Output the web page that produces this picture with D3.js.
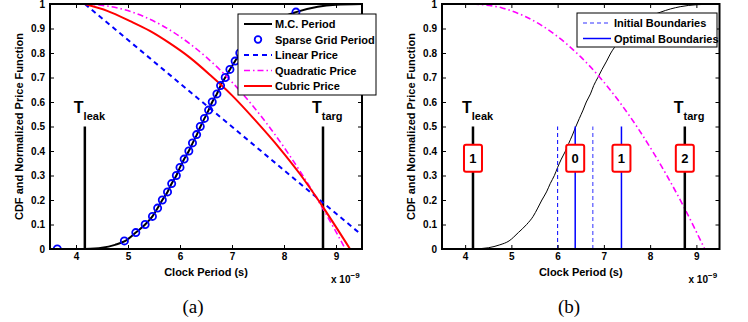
<!DOCTYPE html>
<html>
<head>
<meta charset="utf-8">
<script src="https://cdn.jsdelivr.net/npm/d3@7"></script>
<style>
body{margin:0;background:#fff;}
svg text{font-family:"Liberation Sans",Arial,sans-serif;font-weight:bold;fill:#000;}
</style>
</head>
<body>
<script>
// ---- data ----
var x_domain = [3.5, 9.5];
var x_ticks = [4, 5, 6, 7, 8, 9];
var x_tick_labels = ['4', '5', '6', '7', '8', '9'];
var y_ticks = [0, 0.1, 0.2, 0.3, 0.4, 0.5, 0.6, 0.7, 0.8, 0.9, 1];
var y_tick_labels = ['0', '0.1', '0.2', '0.3', '0.4', '0.5', '0.6', '0.7', '0.8', '0.9', '1'];
var t_leak = 4.17, t_targ = 8.75, marker_top = 0.5;

var mc_x = [4.17, 4.5, 4.75, 4.95, 5.15, 5.33, 5.47, 5.57, 5.66, 5.76, 5.84, 5.93, 6.0, 6.08, 6.17, 6.24, 6.32, 6.39, 6.47, 6.55, 6.62, 6.71, 6.78, 6.87, 6.96, 7.06, 7.15, 7.3, 7.55, 7.85, 8.23, 8.65, 9.0, 9.5];
var mc_y = [0, 0.005, 0.017, 0.033, 0.067, 0.1, 0.133, 0.167, 0.2, 0.233, 0.267, 0.3, 0.333, 0.367, 0.4, 0.431, 0.465, 0.498, 0.533, 0.567, 0.6, 0.633, 0.667, 0.7, 0.733, 0.767, 0.8, 0.84, 0.89, 0.935, 0.967, 0.989, 0.997, 1];

var sparse_x = [3.64, 4.93, 5.15, 5.33, 5.47, 5.57, 5.66, 5.76, 5.84, 5.93, 6.0, 6.08, 6.17, 6.24, 6.32, 6.39, 6.47, 6.55, 6.62, 6.71, 6.78, 6.87, 6.96, 7.06, 7.15, 7.27, 7.42, 7.6, 7.85, 8.23];
var sparse_y = [0, 0.033, 0.067, 0.1, 0.133, 0.167, 0.2, 0.233, 0.267, 0.3, 0.333, 0.367, 0.4, 0.433, 0.467, 0.5, 0.533, 0.567, 0.6, 0.633, 0.667, 0.7, 0.733, 0.767, 0.8, 0.833, 0.867, 0.9, 0.933, 0.967];

var linear_x = [4.17, 9.45];
var linear_y = [1, 0.065];
var quad_x = [4.17, 4.8, 5.3, 5.65, 6.2, 6.5, 6.92, 7.35, 7.75, 8.12, 8.37, 8.74, 9.18];
var quad_y = [1, 0.984, 0.949, 0.913, 0.836, 0.784, 0.699, 0.597, 0.489, 0.378, 0.297, 0.168, 0];
var cubic_x = [4.17, 4.6, 5.04, 5.42, 5.8, 6.19, 6.58, 7.0, 7.44, 7.92, 8.31, 8.76, 9.27];
var cubic_y = [1, 0.972, 0.93, 0.89, 0.84, 0.781, 0.71, 0.627, 0.527, 0.41, 0.305, 0.168, 0];

var initial_bounds = [6.0, 6.76];
var optimal_bounds = [6.38, 7.38];
var bin_x = [4.17, 6.38, 7.38, 8.75];
var bin_labels = ['1', '0', '1', '2'];
var bin_y = 0.37;

function pts(xs, ys) { return xs.map((d, i) => [d, ys[i]]); }

var svg = d3.select('body').append('svg').attr('width', 748).attr('height', 322);

function make_panel(left, right, top, bottom, id) {
    var x = d3.scaleLinear().domain(x_domain).range([left, right]);
    var y = d3.scaleLinear().domain([0, 1]).range([bottom, top]);
    svg.append('clipPath').attr('id', id).append('rect')
        .attr('x', left).attr('y', top).attr('width', right - left).attr('height', bottom - top);
    var g = svg.append('g');
    var plot = g.append('g').attr('clip-path', 'url(#' + id + ')');
    var yfmt = d => y_tick_labels[y_ticks.indexOf(d)];
    var xfmt = d => x_tick_labels[x_ticks.indexOf(d)];
    var ax = [
        g.append('g').attr('transform', 'translate(0,' + bottom + ')').call(d3.axisBottom(x).tickValues(x_ticks).tickSize(-4).tickPadding(4).tickFormat(xfmt)),
        g.append('g').attr('transform', 'translate(0,' + top + ')').call(d3.axisTop(x).tickValues(x_ticks).tickSize(-4).tickFormat('')),
        g.append('g').attr('transform', 'translate(' + left + ',0)').call(d3.axisLeft(y).tickValues(y_ticks).tickSize(-4).tickPadding(5).tickFormat(yfmt)),
        g.append('g').attr('transform', 'translate(' + right + ',0)').call(d3.axisRight(y).tickValues(y_ticks).tickSize(-4).tickFormat(''))
    ];
    ax.forEach(a => {
        a.select('.domain').remove();
        a.selectAll('line').attr('stroke', '#000').attr('stroke-width', 1);
        a.selectAll('text').style('font-size', '10px').attr('font-family', null);
    });
    g.append('rect').attr('x', left).attr('y', top).attr('width', right - left).attr('height', bottom - top)
        .attr('fill', 'none').attr('stroke', '#000').attr('stroke-width', 2);
    var cx = (left + right) / 2;
    g.append('text').text('Clock Period (s)').attr('x', cx).attr('y', bottom + 27)
        .attr('text-anchor', 'middle').style('font-size', '11px');
    var e = g.append('text').attr('x', right - 31).attr('y', bottom + 34).style('font-size', '10px');
    e.append('tspan').text('x 10');
    e.append('tspan').text('\u22129').attr('dy', -5).style('font-size', '8px');
    g.append('text').text('CDF and Normalized Price Function')
        .attr('transform', 'translate(' + (left - 27) + ',' + ((top + bottom) / 2) + ') rotate(-90)')
        .attr('text-anchor', 'middle').style('font-size', '11px');
    return {x: x, y: y, g: g, plot: plot};
}

function t_label(p, t, sub) {
    var tx = p.g.append('text').attr('x', p.x(t) - 11).attr('y', 113).style('font-size', '16px');
    tx.append('tspan').text('T');
    tx.append('tspan').text(sub).attr('dy', 7).style('font-size', '11px');
}

function marker(p, t) {
    p.plot.append('line').attr('x1', p.x(t)).attr('x2', p.x(t)).attr('y1', p.y(0)).attr('y2', p.y(marker_top))
        .attr('stroke', '#000').attr('stroke-width', 2.5);
}

var line_of = p => d3.line().x(d => p.x(d[0])).y(d => p.y(d[1])).curve(d3.curveMonotoneX);

// ---- panel (a) ----
var a = make_panel(50, 362, 4, 249, 'clipA');
marker(a, t_leak);
marker(a, t_targ);
a.plot.append('path').attr('d', line_of(a)(pts(mc_x, mc_y))).attr('fill', 'none').attr('stroke', '#000').attr('stroke-width', 2);
a.plot.append('path').attr('d', line_of(a)(pts(linear_x, linear_y))).attr('fill', 'none').attr('stroke', '#0000ff')
    .attr('stroke-width', 2).attr('stroke-dasharray', '5,4');
a.plot.append('path').attr('d', line_of(a)(pts(quad_x, quad_y))).attr('fill', 'none').attr('stroke', '#ff00ff')
    .attr('stroke-width', 1.6).attr('stroke-dasharray', '6,3,1.5,3');
a.plot.append('path').attr('d', line_of(a)(pts(cubic_x, cubic_y))).attr('fill', 'none').attr('stroke', '#ff0000').attr('stroke-width', 2);
a.plot.selectAll('circle.sg').data(pts(sparse_x, sparse_y)).enter().append('circle')
    .attr('cx', d => a.x(d[0])).attr('cy', d => a.y(d[1])).attr('r', 3.6)
    .attr('fill', 'none').attr('stroke', '#0000ff').attr('stroke-width', 1.8);
t_label(a, t_leak, 'leak');
t_label(a, t_targ, 'targ');

var legA = [
    {name: 'M.C. Period', color: '#000', width: 2, dash: null},
    {name: 'Sparse Grid Period', color: '#0000ff', circle: true},
    {name: 'Linear Price', color: '#0000ff', width: 2, dash: '5,4'},
    {name: 'Quadratic Price', color: '#ff00ff', width: 1.6, dash: '6,3,1.5,3'},
    {name: 'Cubric Price', color: '#ff0000', width: 2, dash: null}
];
function legend(items, x0, y0, w, h, step) {
    var lg = svg.append('g');
    lg.append('rect').attr('x', x0).attr('y', y0).attr('width', w).attr('height', h)
        .attr('fill', '#fff').attr('stroke', '#000').attr('stroke-width', 1);
    items.forEach((d, i) => {
        var yy = y0 + 10 + i * step;
        if (d.circle) {
            lg.append('circle').attr('cx', x0 + 20).attr('cy', yy).attr('r', 3.3)
                .attr('fill', 'none').attr('stroke', d.color).attr('stroke-width', 1.8);
        } else {
            lg.append('line').attr('x1', x0 + 6).attr('x2', x0 + 34).attr('y1', yy).attr('y2', yy)
                .attr('stroke', d.color).attr('stroke-width', d.width).attr('stroke-dasharray', d.dash);
        }
        lg.append('text').text(d.name).attr('x', x0 + 37).attr('y', yy + 4).style('font-size', '11px');
    });
}
legend(legA, 238, 14, 138, 81, 15.5);

// ---- panel (b) ----
var b = make_panel(442, 719.5, 4, 249, 'clipB');
b.plot.append('path').attr('d', line_of(b)(pts(mc_x, mc_y))).attr('fill', 'none').attr('stroke', '#000').attr('stroke-width', 1);
b.plot.append('path').attr('d', line_of(b)(pts(quad_x, quad_y))).attr('fill', 'none').attr('stroke', '#ff00ff')
    .attr('stroke-width', 1.6).attr('stroke-dasharray', '6,3,1.5,3');
marker(b, t_leak);
marker(b, t_targ);
initial_bounds.forEach((t, i) => {
    b.plot.append('line').attr('x1', b.x(t)).attr('x2', b.x(t)).attr('y1', b.y(0)).attr('y2', b.y(marker_top))
        .attr('stroke', i == 0 ? '#0000ff' : '#7777ff').attr('stroke-width', i == 0 ? 1 : 1.5).attr('stroke-dasharray', '4,3');
});
optimal_bounds.forEach(t => {
    b.plot.append('line').attr('x1', b.x(t)).attr('x2', b.x(t)).attr('y1', b.y(0)).attr('y2', b.y(marker_top))
        .attr('stroke', '#0000ff').attr('stroke-width', 1.5);
});
bin_x.forEach((t, i) => {
    b.g.append('rect').attr('x', b.x(t) - 9).attr('y', b.y(bin_y) - 13.5).attr('width', 18).attr('height', 27)
        .attr('rx', 2).attr('fill', '#fff').attr('stroke', '#ff0000').attr('stroke-width', 2);
    b.g.append('text').text(bin_labels[i]).attr('x', b.x(t)).attr('y', b.y(bin_y) + 4.5)
        .attr('text-anchor', 'middle').style('font-size', '13px');
});
t_label(b, t_leak, 'leak');
t_label(b, t_targ, 'targ');
legend([
    {name: 'Initial Boundaries', color: '#7777ff', width: 1.5, dash: '4,3'},
    {name: 'Optimal Boundaries', color: '#0000ff', width: 1.5, dash: null}
], 577, 13, 140, 34, 15.5);

// captions
svg.append('text').text('(a)').attr('x', 193).attr('y', 313).attr('text-anchor', 'middle')
    .style('font-family', '"Liberation Serif","Times New Roman",serif').style('font-weight', 'normal').style('font-size', '19px');
svg.append('text').text('(b)').attr('x', 569).attr('y', 313).attr('text-anchor', 'middle')
    .style('font-family', '"Liberation Serif","Times New Roman",serif').style('font-weight', 'normal').style('font-size', '19px');
</script>
</body>
</html>
